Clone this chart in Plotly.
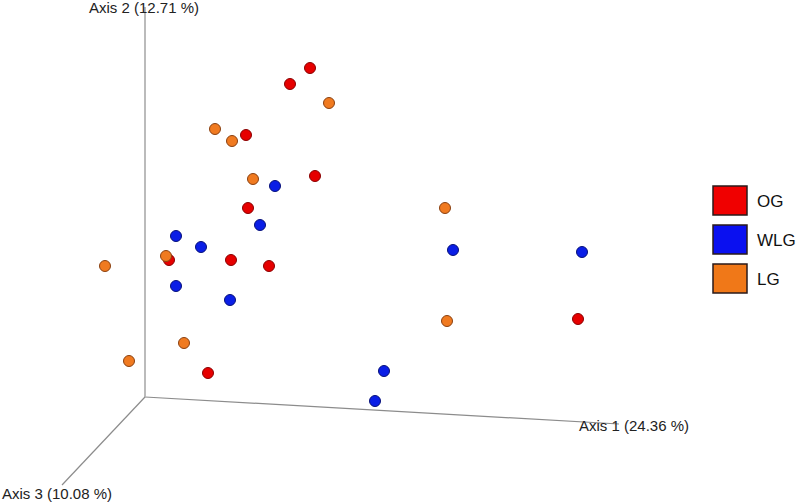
import plotly.graph_objects as go

# Projected ordination coordinates (screen-plane units, origin at axes origin, y up)
og_x = [165, 145, 101, 170, 103, 24, 86, 124, 433, 63]
og_y = [329, 313, 262, 221, 189, 137, 137, 131, 78, 24]
wlg_x = [130, 115, 31, 56, 308, 437, 31, 85, 239, 230]
wlg_y = [211, 172, 161, 150, 147, 145, 111, 97, 26, -4]
lg_x = [184, 70, 87, 108, 300, 21, -40, 302, 39, -16]
lg_y = [294, 268, 256, 218, 189, 141, 131, 76, 54, 36]

groups = ["OG", "WLG", "LG"]
fill_colors = ["#e60000", "#0a1ee6", "#f07a20"]
edge_colors = ["#8a0000", "#06107a", "#8a4010"]
legend_colors = ["#f00000", "#0a10f0", "#f07818"]

axis_names = ["Axis 1 (24.36 %)", "Axis 2 (12.71 %)", "Axis 3 (10.08 %)"]
axis_ends = [(474, -27), (0, 390), (-83, -88)]

fig = go.Figure()

# axes lines
axis_line_colors = ["#8c8c8c", "#b4b4b4", "#8c8c8c"]
axis_line_widths = [1.2, 1.8, 1.2]
for (ex, ey), c, w in zip(axis_ends, axis_line_colors, axis_line_widths):
    fig.add_trace(go.Scatter(x=[0, ex], y=[0, ey], mode="lines",
                             line=dict(color=c, width=w),
                             hoverinfo="skip", showlegend=False))

series = [(og_x, og_y), (wlg_x, wlg_y), (lg_x, lg_y)]
for (xs, ys), name, fc, ec in zip(series, groups, fill_colors, edge_colors):
    fig.add_trace(go.Scatter(x=xs, y=ys, mode="markers", name=name,
                             marker=dict(size=11, color=fc,
                                         line=dict(color=ec, width=1)),
                             showlegend=False))

# axis labels
label_pos = [(432, -28, "left", "middle"), (-1, 390, "center", "middle"),
             (-88, -96, "center", "middle")]
for name, (lx, ly, xa, ya) in zip(axis_names, label_pos):
    fig.add_annotation(x=lx, y=ly, text=name, showarrow=False,
                       xanchor=xa, yanchor=ya,
                       font=dict(family="Liberation Sans, Arial", size=15,
                                 color="#222222"))

# manual legend (paper coordinates, pixel-based)
W, H = 796, 502
box_tops = [186, 225, 264]
for top, name, fc in zip(box_tops, groups, legend_colors):
    fig.add_shape(type="rect", xref="paper", yref="paper",
                  x0=713 / W, x1=747 / W, y0=1 - (top + 29) / H, y1=1 - top / H,
                  fillcolor=fc, line=dict(color="#2a1a1a", width=1.5))
    fig.add_annotation(xref="paper", yref="paper", x=755 / W,
                       y=1 - (top + 15) / H, text=name, showarrow=False,
                       xanchor="left", yanchor="middle",
                       font=dict(family="Liberation Sans, Arial", size=17,
                                 color="#111111"))

fig.update_layout(
    width=W, height=H,
    margin=dict(l=0, r=0, t=0, b=0),
    paper_bgcolor="white", plot_bgcolor="white",
    xaxis=dict(range=[-145, W - 145], visible=False, fixedrange=True),
    yaxis=dict(range=[397 - H, 397], visible=False, fixedrange=True),
)

fig.write_html("out.html",
               config={"displayModeBar": False},
               post_script="document.body.style.margin='0';"
                           "document.body.style.overflow='hidden';")
